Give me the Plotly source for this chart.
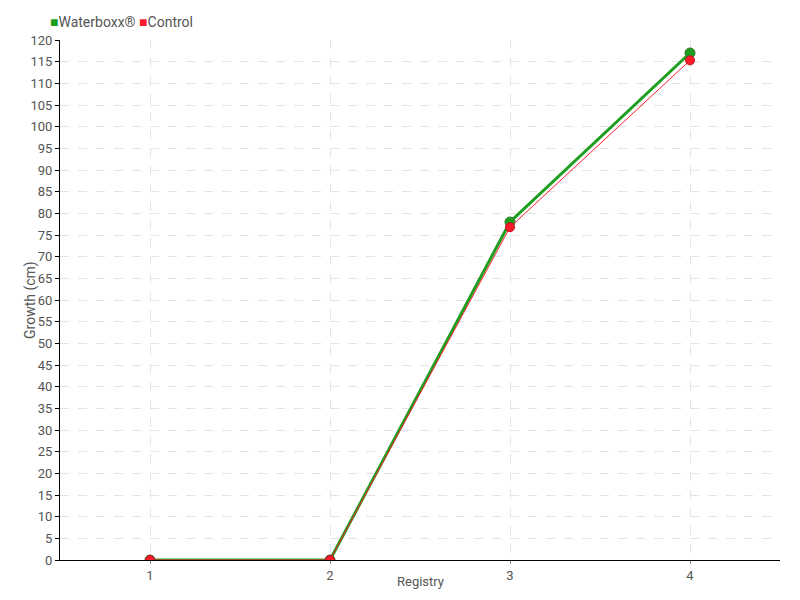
import plotly.graph_objects as go

registry = [1, 2, 3, 4]
waterboxx = [0, 0, 78, 117]
control = [0, 0, 76.8, 115.3]

green = '#1e9e1e'
red = '#ff1a2e'

fig = go.Figure()

fig.add_trace(go.Scatter(x=registry, y=waterboxx, mode='lines+markers', name='Waterboxx®',
                         line=dict(color=green, width=3),
                         marker=dict(size=10, color=green, line=dict(color='#2a7a2a', width=1))))
fig.add_trace(go.Scatter(x=registry, y=control, mode='lines+markers', name='Control',
                         line=dict(color=red, width=1),
                         marker=dict(size=9, color=red, line=dict(color='#c0101a', width=1))))

# legend drawn as text so the swatches sit tight against the labels
fig.add_annotation(xref='paper', yref='paper', x=0, y=1, xshift=-12, yshift=18,
                   xanchor='left', yanchor='middle', showarrow=False, align='left',
                   font=dict(size=14),
                   text=f"<span style='color:{green}'>■</span>Waterboxx® "
                        f"<span style='color:{red}'>■</span>Control")
# axis titles placed by hand, they sit very close to the tick labels
fig.add_annotation(xref='paper', yref='paper', x=0.5, y=0, yshift=-21,
                   xanchor='center', yanchor='middle', showarrow=False,
                   text='Registry')
fig.add_annotation(xref='paper', yref='paper', x=0, y=0.5, xshift=-30,
                   xanchor='center', yanchor='middle', showarrow=False, textangle=-90,
                   font=dict(size=14), text='Growth (cm)')

fig.update_xaxes(range=[0.5, 4.5], tickvals=registry, ticks='outside', ticklen=3, tickcolor='#888',
                 showline=True, linecolor='black', linewidth=1, zeroline=False, automargin=False,
                 showgrid=True, gridcolor='#e3e3e3', griddash='dash')
fig.update_yaxes(range=[0, 120], dtick=5, ticks='outside', ticklen=4, tickcolor='black',
                 showline=True, linecolor='black', linewidth=1, zeroline=False, automargin=False,
                 showgrid=True, gridcolor='#e3e3e3', griddash='dash')

fig.update_layout(
    width=792, height=592,
    margin=dict(l=52, r=20, t=32, b=40),
    plot_bgcolor='white', paper_bgcolor='white',
    font=dict(family='Roboto', size=13, color='#555'),
    showlegend=False,
    hovermode=False,
)

fig.write_html("out.html")
